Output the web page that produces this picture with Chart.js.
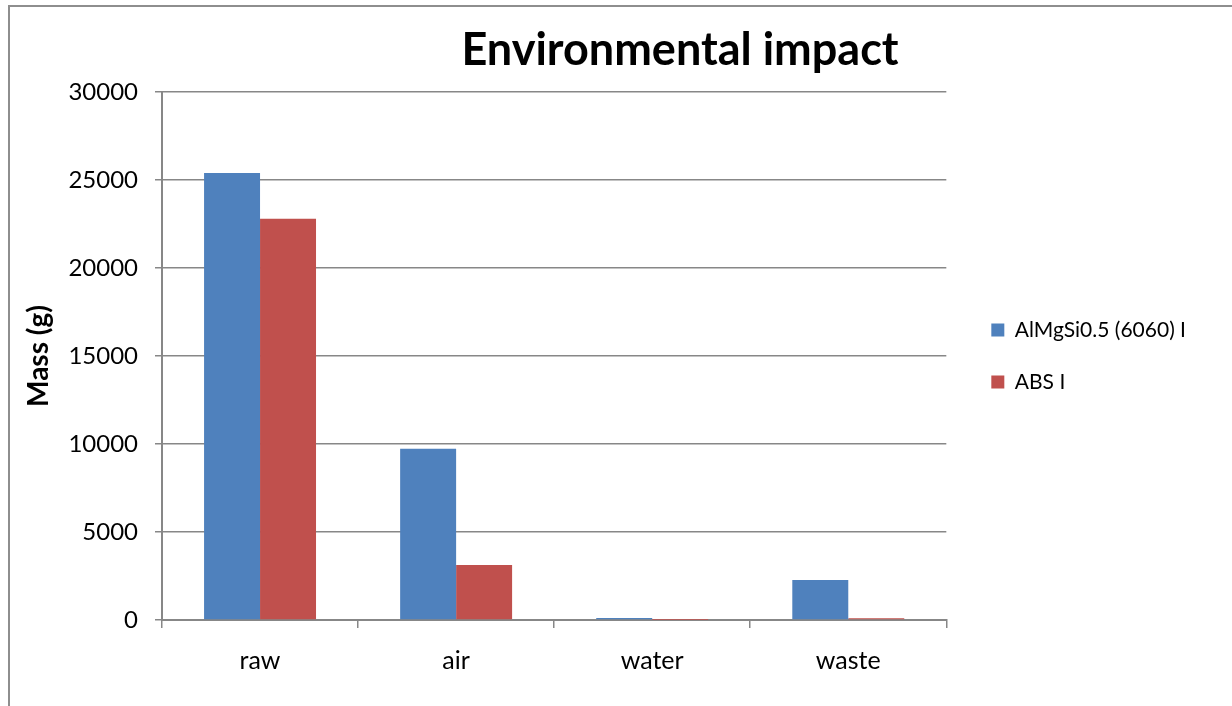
<html>
<head>
    <title>Environmental impact</title>
    <script src="https://cdn.jsdelivr.net/npm/chart.js"></script>
    <style>
        body { margin: 0; background: #fff; overflow: hidden; width: 1232px; height: 706px; position: relative; }
        #frame { position: absolute; left: 8px; top: 5px; width: 1400px; height: 900px; border: 2px solid #8e8e8e; }
        #wrap { position: absolute; left: 0; top: 0; width: 1232px; height: 706px; }
    </style>
</head>
<body>
    <div id="frame"></div>
    <div id="wrap"><canvas id="impactChart"></canvas></div>

    <script>
        // categories and series (mass in grams)
        const categories = ['raw', 'air', 'water', 'waste'];
        const seriesNames = ['AlMgSi0.5 (6060) I', 'ABS I'];
        const alMgSiMass = [25400, 9730, 110, 2270];
        const absMass = [22800, 3130, 5, 100];
        const yTickValues = [0, 5000, 10000, 15000, 20000, 25000, 30000];

        const FONT = 'Lato, "Open Sans", sans-serif';
        const AXIS_GREY = '#878787';

        // title is centred over the whole frame, not over the plot
        const frameTitle = {
            id: 'frameTitle',
            afterDraw(chart, args, opts) {
                const ctx = chart.ctx;
                ctx.save();
                ctx.font = 'bold 45px ' + FONT;
                ctx.fillStyle = '#000';
                ctx.textAlign = 'center';
                ctx.textBaseline = 'middle';
                ctx.fillText(opts.text, opts.x, opts.y);
                ctx.restore();
            }
        };

        new Chart(document.getElementById('impactChart').getContext('2d'), {
            type: 'bar',
            data: {
                labels: categories,
                datasets: [
                    { label: seriesNames[0], data: alMgSiMass, backgroundColor: '#4f81bd' },
                    { label: seriesNames[1], data: absMass, backgroundColor: '#c0504d' }
                ]
            },
            options: {
                responsive: true,
                maintainAspectRatio: false,
                animation: false,
                categoryPercentage: 0.571,
                barPercentage: 1,
                layout: { padding: { left: 22, right: 36, top: 92, bottom: 30 } },
                plugins: {
                    title: { display: false },
                    tooltip: { enabled: false },
                    frameTitle: { text: 'Environmental impact', x: 680, y: 50 },
                    legend: {
                        position: 'right',
                        align: 'center',
                        fullSize: false,
                        maxWidth: 300,
                        labels: {
                            boxWidth: 13,
                            boxHeight: 13,
                            padding: 31,
                            color: '#000',
                            font: { family: FONT, size: 21 }
                        }
                    }
                },
                scales: {
                    x: {
                        grid: { display: true, drawOnChartArea: false, drawTicks: true, tickLength: 8, color: AXIS_GREY, lineWidth: 1.5, offset: true },
                        border: { display: true, color: AXIS_GREY, width: 2 },
                        ticks: { color: '#000', padding: 18, font: { family: FONT, size: 25 } },
                        afterFit: s => { s.height = 56; }
                    },
                    y: {
                        min: 0,
                        max: 30000,
                        afterBuildTicks: s => { s.ticks = yTickValues.map(v => ({ value: v })); },
                        grid: { color: AXIS_GREY, lineWidth: 1.5, drawTicks: true, tickLength: 7 },
                        border: { display: true, color: AXIS_GREY, width: 2 },
                        ticks: { color: '#000', padding: 17, font: { family: FONT, size: 24 }, callback: v => String(v) },
                        title: { display: true, text: 'Mass (g)', color: '#000', padding: 0, font: { family: FONT, size: 28, weight: 'bold' } },
                        afterFit: s => { s.width = 140; }
                    },
                    // empty right-hand scale, only keeps a gap between the plot and the legend
                    gap: {
                        type: 'linear',
                        position: 'right',
                        display: true,
                        grid: { display: false },
                        border: { display: false },
                        ticks: { display: false },
                        afterFit: s => { s.width = 14; }
                    }
                }
            },
            plugins: [frameTitle]
        });
    </script>
</body>
</html>
